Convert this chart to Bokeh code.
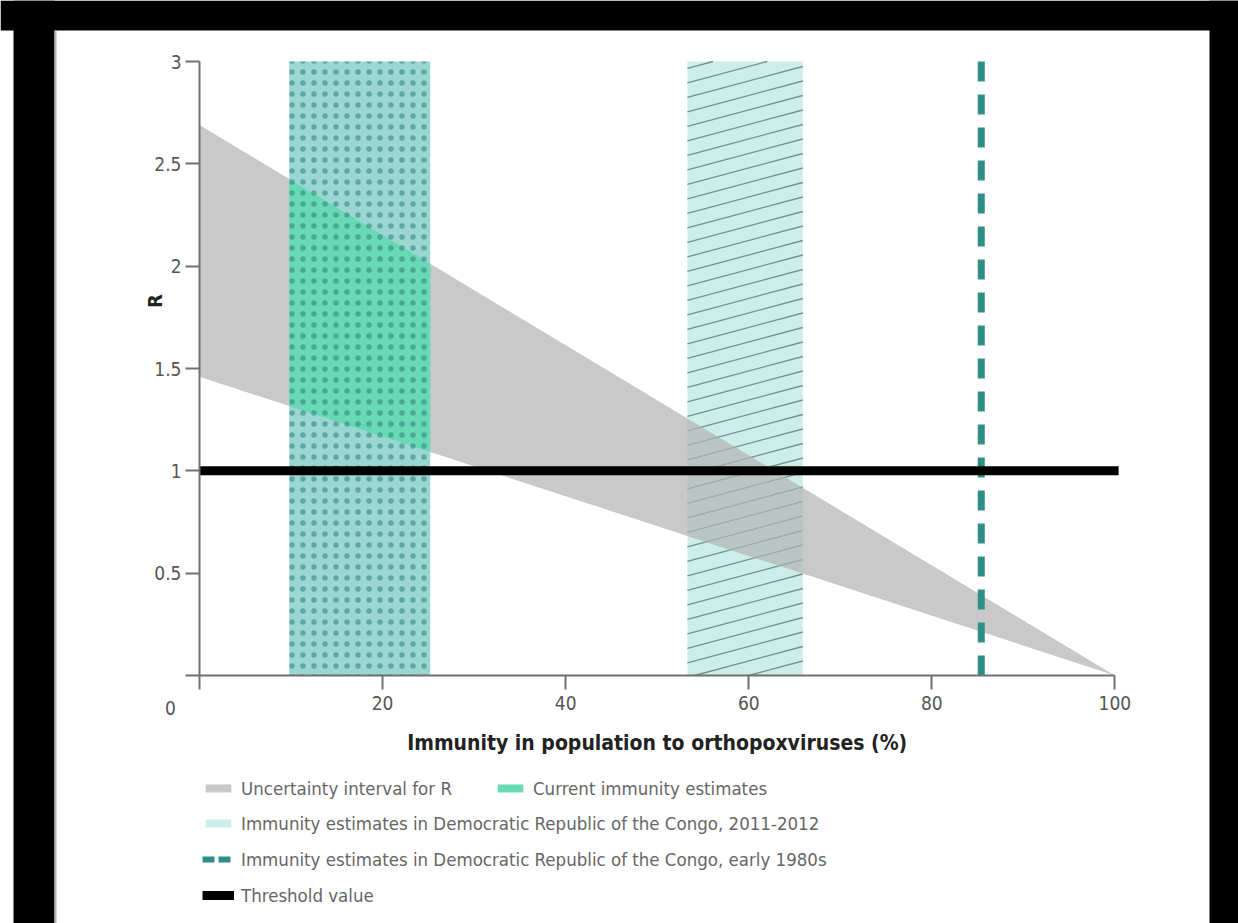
import numpy as np
from bokeh.plotting import figure
from bokeh.models import Range1d, FixedTicker, Legend, LegendItem, Label, BoxAnnotation
from bokeh.embed import file_html
from bokeh.resources import INLINE

# ---------------- data ----------------
band_x = [0, 100]
band_upper = [2.69, 0.0]
band_lower = [1.46, 0.0]
current_immunity = [9.8, 25.2]
drc_2011_2012 = [53.3, 65.9]
drc_1980s = [85.4, 85.4]
drc_1980s_y = [3.0, 0.0]
threshold_x = [0, 100.4]
threshold_y = [1.0, 1.0]
x_bounds = [0, 100]
y_bounds = [0, 3.0]
x_ticks = [0, 20, 40, 60, 80, 100]
x_tick_labels = ["", "20", "40", "60", "80", "100"]
y_ticks = [0, 0.5, 1, 1.5, 2, 2.5, 3]
y_tick_labels = ["", "0.5", "1", "1.5", "2", "2.5", "3"]
origin_label = "0"
x_title = "Immunity in population to orthopoxviruses (%)"
y_title = "R"
legend_row1 = ["Uncertainty interval for R", "Current immunity estimates"]
legend_rows = ["Immunity estimates in Democratic Republic of the Congo, 2011-2012",
               "Immunity estimates in Democratic Republic of the Congo, early 1980s",
               "Threshold value"]

# ---------------- layout (pixels) ----------------
W, H = 1238, 923
ORIGIN_X, ORIGIN_Y = 199, 675       # canvas position of data (0, 0)
PX_X = 920 / 100.5                  # pixels per x unit
PX_Y = 614 / 3.0                    # pixels per y unit
xr = (-ORIGIN_X / PX_X, (W - ORIGIN_X) / PX_X)
yr = (-(H - ORIGIN_Y) / PX_Y, ORIGIN_Y / PX_Y)

FONT = "DejaVu Sans Condensed"

p = figure(width=W, height=H, x_range=Range1d(*xr), y_range=Range1d(*yr),
           output_backend="svg", toolbar_location=None,
           min_border=0, min_border_left=0, min_border_right=0,
           min_border_top=0, min_border_bottom=0,
           background_fill_color="white", border_fill_color="white",
           outline_line_color=None)
p.xgrid.visible = False
p.ygrid.visible = False

AX = "#707070"
for ax in (p.xaxis[0], p.yaxis[0]):
    ax.fixed_location = 0
    ax.axis_line_color = AX
    ax.axis_line_width = 2
    ax.major_tick_line_color = AX
    ax.major_tick_line_width = 2
    ax.major_tick_in = 0
    ax.major_tick_out = 14
    ax.minor_tick_line_color = None
    ax.major_label_text_font = FONT
    ax.major_label_text_font_size = "19px"
    ax.major_label_text_color = "#555555"

p.xaxis.bounds = tuple(x_bounds)
p.xaxis.ticker = FixedTicker(ticks=x_ticks)
p.xaxis.major_label_overrides = dict(zip(x_ticks, x_tick_labels))
p.xaxis.major_label_standoff = 6

p.yaxis.bounds = tuple(y_bounds)
p.yaxis.ticker = FixedTicker(ticks=y_ticks)
p.yaxis.major_label_overrides = dict(zip(y_ticks, y_tick_labels))
p.yaxis.major_label_standoff = 4

# ---- 2011-2012 hatched box ----
x0, x1 = drc_2011_2012
ylo, yhi = y_bounds
drc_r = p.quad(left=[x0], right=[x1], bottom=[ylo], top=[yhi],
               fill_color="#cdeee8", line_color=None)
slope = (30 / 112) * PX_X / PX_Y
spacing = 14.5 / PX_Y
seg = {"x0": [], "y0": [], "x1": [], "y1": []}
for b in np.arange(-slope * (x1 - x0), yhi, spacing):
    xs, ys, xe, ye = x0, b, x1, b + slope * (x1 - x0)
    if ys < ylo:
        xs = x0 + (ylo - b) / slope
        ys = ylo
    if ye > yhi:
        xe = x0 + (yhi - b) / slope
        ye = yhi
    if xe > xs:
        seg["x0"].append(xs); seg["y0"].append(ys)
        seg["x1"].append(xe); seg["y1"].append(ye)
p.segment(x0=seg["x0"], y0=seg["y0"], x1=seg["x1"], y1=seg["y1"],
          line_color="#6f928c", line_width=1.3)

# ---- uncertainty band ----
band_r = p.varea(x=band_x, y1=band_lower, y2=band_upper,
                 fill_color="#b2b2b2", fill_alpha=0.7)

# ---- current immunity dotted box ----
c0, c1 = current_immunity
p.quad(left=[c0], right=[c1], bottom=[ylo], top=[yhi],
       fill_color="#9ad7d3", line_color=None)
lo0, lo1 = np.interp([c0, c1], band_x, band_lower)
up0, up1 = np.interp([c0, c1], band_x, band_upper)
cur_r = p.patch(x=[c0, c1, c1, c0], y=[lo0, lo1, up1, up0],
                fill_color="#68d9b4", line_color=None)
p.quad(left=[c0], right=[c1], bottom=[ylo], top=[yhi],
       fill_color=None, line_color=None, hatch_pattern="dot",
       hatch_color="#2f7f7a", hatch_scale=11, hatch_weight=1.8, hatch_alpha=0.55)

# ---- early 1980s dashed line ----
p.line(x=drc_1980s, y=drc_1980s_y, line_color="#2f8f86", line_width=7,
       line_dash="20 13")
dash_leg = p.line(x=[np.nan, np.nan], y=[np.nan, np.nan], line_color="#2f8f86",
                  line_width=6, line_dash="12 4")

# ---- threshold ----
thr_r = p.line(x=threshold_x, y=threshold_y, line_color="black", line_width=9)

# ---- labels ----
p.add_layout(Label(x=-3.17, y=-0.161, text=origin_label, text_align="center",
                   text_baseline="middle", text_font=FONT,
                   text_font_size="19px", text_color="#555555"))
p.add_layout(Label(x=-4.81, y=1.83, text=y_title, angle=np.pi / 2,
                   text_align="center", text_baseline="middle",
                   text_font=FONT, text_font_style="bold",
                   text_font_size="20px", text_color="#222222"))
p.add_layout(Label(x=sum(x_bounds) / 2, y=-0.332, text=x_title,
                   text_align="center", text_baseline="middle",
                   text_font=FONT, text_font_style="bold",
                   text_font_size="21px", text_color="#222222"))

# ---- legends ----
def mk_legend(items, loc, orientation):
    return Legend(items=items, location=loc, orientation=orientation,
                  glyph_width=32, glyph_height=10, label_height=24,
                  label_standoff=7, spacing=12, padding=0, margin=0,
                  border_line_color=None, background_fill_alpha=0,
                  label_text_font=FONT, label_text_font_size="18.5px",
                  label_text_color="#666666", label_text_baseline="middle")

lg1 = mk_legend([LegendItem(label=legend_row1[0], renderers=[band_r]),
                 LegendItem(label=legend_row1[1], renderers=[cur_r])],
                (202, H - 776 - 24), "horizontal")
lg1.spacing = 42
lg2 = mk_legend([LegendItem(label=legend_rows[0], renderers=[drc_r]),
                 LegendItem(label=legend_rows[1], renderers=[dash_leg]),
                 LegendItem(label=legend_rows[2], renderers=[thr_r])],
                (202, H - 811 - 96), "vertical")
p.add_layout(lg1, "center")
p.add_layout(lg2, "center")

# ---- black frame ----
for l, r, t, b, c in [(0, W, 0, 30, "black"), (13, 54, 0, H, "black"),
                      (54, 56, 30, H, "#b0b0b0"), (1209, W, 0, H, "black")]:
    p.add_layout(BoxAnnotation(left=l, right=r, top=t, bottom=b,
                               left_units="canvas", right_units="canvas",
                               top_units="canvas", bottom_units="canvas",
                               fill_color=c, fill_alpha=1.0,
                               line_color=None, level="overlay"))

open("out.html", "w").write(file_html(p, INLINE))
